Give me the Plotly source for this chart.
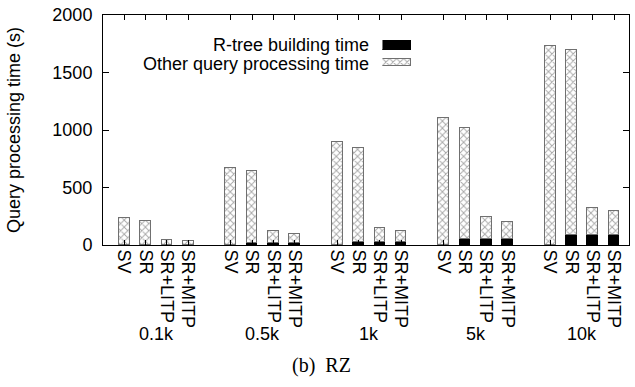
import plotly.graph_objects as go

groups = ["0.1k", "0.5k", "1k", "5k", "10k"]
methods = ["SV", "SR", "SR+LITP", "SR+MITP"]
# R-tree building time (s)
rtree = [
    [0, 4, 4, 4],
    [0, 15, 15, 15],
    [0, 25, 25, 25],
    [0, 50, 50, 50],
    [0, 85, 85, 85],
]
# total query processing time (s)
total = [
    [234, 208, 45, 34],
    [670, 645, 121, 99],
    [894, 844, 149, 124],
    [1103, 1018, 247, 203],
    [1727, 1693, 323, 293],
]
other = [[t - r for t, r in zip(tr, rr)] for tr, rr in zip(total, rtree)]

xs, rt, ot, labels = [], [], [], []
for g in range(len(groups)):
    for b in range(len(methods)):
        xs.append(g * (len(methods) + 1) + b)
        rt.append(rtree[g][b])
        ot.append(other[g][b])
        labels.append(methods[b])

FONT = "Liberation Sans, Arial, sans-serif"
FS = 18
hatch = dict(shape="x", size=5, solidity=0.35, fgcolor="#505050", bgcolor="white")
EDGE = "#707070"

fig = go.Figure()
fig.add_trace(go.Bar(x=xs, y=rt, width=0.5, marker=dict(color="black", line=dict(color="black", width=1)),
                     showlegend=False))
fig.add_trace(go.Bar(x=xs, y=ot, width=0.5,
                     marker=dict(color="white", pattern=hatch, line=dict(color=EDGE, width=1)),
                     showlegend=False))

# legend swatches in an inset axis
fig.add_trace(go.Bar(x=[1], y=[1], orientation="h", width=0.5, xaxis="x2", yaxis="y2",
                     marker=dict(color="black", line=dict(color="black", width=1)), showlegend=False,
                     hoverinfo="skip"))
fig.add_trace(go.Bar(x=[1], y=[0], orientation="h", width=0.46, xaxis="x2", yaxis="y2",
                     marker=dict(color="white", pattern=hatch, line=dict(color=EDGE, width=1)),
                     showlegend=False, hoverinfo="skip"))

W, H = 635, 387
L, R, T, B = 103, 5, 8, 142
pw, ph = W - L - R, H - T - B

def px(xp):
    return (xp - L) / pw

def py(yp):
    return 1 - (yp - T) / ph

annotations = []
for g, name in enumerate(groups):
    cx = g * (len(methods) + 1) + (len(methods) - 1) / 2
    annotations.append(dict(x=cx, y=py(337), xref="x", yref="paper", text=name, showarrow=False,
                            font=dict(family=FONT, size=FS, color="black"), yanchor="middle"))
annotations.append(dict(x=px(372), y=py(39), xref="paper", yref="paper", text="R-tree building time",
                        showarrow=False, xanchor="right", yanchor="middle",
                        font=dict(family=FONT, size=FS, color="black")))
annotations.append(dict(x=px(372), y=py(59), xref="paper", yref="paper", text="Other query processing time",
                        showarrow=False, xanchor="right", yanchor="middle",
                        font=dict(family=FONT, size=FS, color="black")))
annotations.append(dict(x=px(322), y=py(369), xref="paper", yref="paper", text="(b)&nbsp;&nbsp;RZ",
                        showarrow=False, xanchor="center", yanchor="middle",
                        font=dict(family="Liberation Serif, Times New Roman, serif", size=20, color="black")))

fig.update_layout(
    width=W, height=H,
    margin=dict(l=L, r=R, t=T, b=B, pad=0),
    paper_bgcolor="white", plot_bgcolor="white",
    barmode="stack",
    font=dict(family=FONT, size=FS, color="black"),
    annotations=annotations,
    xaxis=dict(range=[-1, 23.7], tickvals=xs, ticktext=labels, tickangle=90,
               ticks="inside", ticklen=5, tickcolor="black", mirror="allticks",
               showline=True, linecolor="black", linewidth=1, showgrid=False, zeroline=False,
               tickfont=dict(family=FONT, size=FS)),
    yaxis=dict(range=[0, 2000], tickvals=[0, 500, 1000, 1500, 2000],
               ticks="inside", ticklen=6, tickcolor="black", mirror="allticks",
               ticklabeloverflow="allow", ticklabelstandoff=6,
               showline=True, linecolor="black", linewidth=1, showgrid=False, zeroline=False,
               title=dict(text="Query processing time (s)", standoff=27, font=dict(family=FONT, size=FS)),
               tickfont=dict(family=FONT, size=FS)),
    xaxis2=dict(domain=[px(383), px(412)], range=[0, 1], visible=False, anchor="y2", fixedrange=True),
    yaxis2=dict(domain=[py(66), py(31)], range=[-0.5, 1.5], visible=False, anchor="x2", fixedrange=True),
    bargap=0,
)

fig.write_html("out.html")
